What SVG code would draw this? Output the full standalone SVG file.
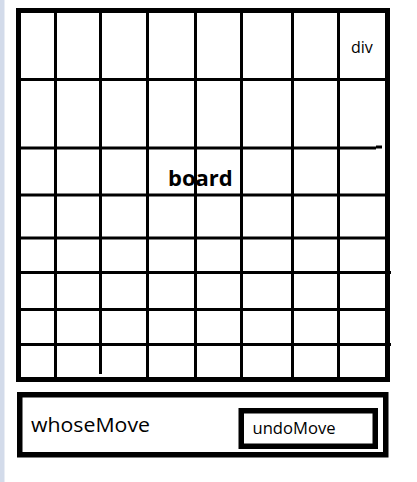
<svg xmlns="http://www.w3.org/2000/svg" width="417" height="482" viewBox="0 0 417 482">
<style>
.frame{fill:none;stroke:#000;stroke-width:5}
.box{fill:none;stroke:#000;stroke-width:5.5}
.grid line{stroke:#000;stroke-width:3}
.t{font-family:"Open Sans","Noto Sans","DejaVu Sans",sans-serif;fill:#000}
</style>
<rect x="0" y="0" width="417" height="482" fill="#fff"/>
<rect x="0" y="0" width="4.5" height="482" fill="#d3dbea"/>
<g id="board">
<g class="grid">
<line x1="55.5" y1="10" x2="55.5" y2="380"/>
<line x1="100.5" y1="10" x2="100.5" y2="374"/>
<line x1="147.5" y1="10" x2="147.5" y2="380"/>
<line x1="195.5" y1="8" x2="195.5" y2="380"/>
<line x1="241.5" y1="10" x2="241.5" y2="380"/>
<line x1="292.5" y1="10" x2="292.5" y2="380"/>
<line x1="338.5" y1="10" x2="338.5" y2="380"/>
<line x1="18" y1="79.5" x2="388" y2="79.5"/>
<line x1="18" y1="148" x2="376" y2="148"/>
<line x1="376" y1="147" x2="382" y2="147"/>
<line x1="21" y1="195" x2="388" y2="195"/>
<line x1="18" y1="238" x2="388" y2="238"/>
<line x1="18" y1="272.5" x2="391" y2="272.5"/>
<line x1="18" y1="309.5" x2="388" y2="309.5"/>
<line x1="18" y1="344.5" x2="391" y2="344.5"/>
</g>
<rect class="frame" x="18.5" y="10.5" width="369" height="369"/>
<text class="t" x="168" y="186" font-size="22" font-weight="bold">board</text>
<text class="t" x="351" y="53" font-size="16">div</text>
</g>
<g id="status">
<rect class="box" x="19.75" y="394.75" width="366" height="60"/>
<text class="t" x="31" y="432" font-size="20.5" textLength="119" lengthAdjust="spacingAndGlyphs">whoseMove</text>
</g>
<g id="undoMove">
<rect class="box" x="241.25" y="410.75" width="134" height="35.5"/>
<text class="t" x="252.5" y="434" font-size="15.5" textLength="83" lengthAdjust="spacingAndGlyphs">undoMove</text>
</g>
<g id="connectors"/>
</svg>
